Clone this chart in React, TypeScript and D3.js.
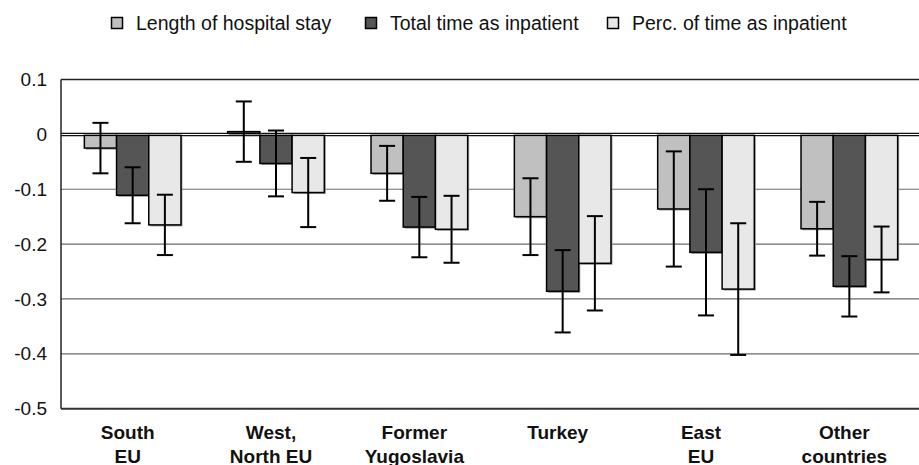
import * as d3 from 'd3';

const categories = [
  ['South', 'EU'],
  ['West,', 'North EU'],
  ['Former', 'Yugoslavia'],
  ['Turkey'],
  ['East', 'EU'],
  ['Other', 'countries'],
];
const seriesNames = ['Length of hospital stay', 'Total time as inpatient', 'Perc. of time as inpatient'];
const lengthStay = [-0.025, 0.005, -0.071, -0.15, -0.136, -0.172];
const lengthErr = [0.046, 0.055, 0.05, 0.07, 0.105, 0.049];
const totalTime = [-0.111, -0.053, -0.169, -0.286, -0.215, -0.277];
const totalErr = [0.051, 0.06, 0.055, 0.075, 0.115, 0.055];
const percTime = [-0.165, -0.106, -0.173, -0.235, -0.282, -0.228];
const percErr = [0.055, 0.063, 0.061, 0.086, 0.12, 0.06];
const yTicks = [0.1, 0, -0.1, -0.2, -0.3, -0.4, -0.5];

const seriesValues = [lengthStay, totalTime, percTime];
const seriesErrors = [lengthErr, totalErr, percErr];
const colors = ['#c0c0c0', '#555555', '#e8e8e8'];

const W = 919;
const H = 465;
const left = 61;
const right = 921;
const top = 79.5;
const bottom = 408.7;
const font = 'Arial, "Liberation Sans", Helvetica, sans-serif';

export default function App() {
  const keys = categories.map(c => c.join(' '));
  const y = d3.scaleLinear().domain([-0.5, 0.1]).range([bottom, top]);
  const x0 = d3.scaleBand<string>().domain(keys).range([left, right]);
  const x1 = d3.scaleBand<number>().domain([0, 1, 2]).range([0, x0.bandwidth()]).paddingOuter(0.725);
  const y0 = y(0);
  const legendX = [111, 365, 607];

  return (
    <svg width={W} height={H} style={{ position: 'absolute', left: 0, top: 0, background: '#fff' }} fontFamily={font}>
      {/* legend */}
      {seriesNames.map((name, i) => (
        <g key={name} transform={`translate(${legendX[i]},0)`}>
          <rect x={0.5} y={17.5} width={11} height={11} fill={colors[i]} stroke="#000" strokeWidth={1.5} />
          <text x={25} y={30} fontSize={19.5} fill="#111">{name}</text>
        </g>
      ))}

      {/* gridlines */}
      {yTicks.filter(t => t < 0 && t > -0.5).map(t => (
        <line key={t} x1={left} x2={right} y1={y(t)} y2={y(t)} stroke="#6a6a6a" strokeWidth={1.2} />
      ))}
      <line x1={left} x2={right} y1={top} y2={top} stroke="#222" strokeWidth={1.5} />
      <line x1={left} x2={right} y1={y0 - 1} y2={y0 - 1} stroke="#111" strokeWidth={1.2} />
      <line x1={left} x2={right} y1={y0 + 1.2} y2={y0 + 1.2} stroke="#111" strokeWidth={1.2} />

      {/* bars */}
      {categories.map((c, ci) => (
        <g key={keys[ci]} transform={`translate(${x0(keys[ci])},0)`}>
          {seriesValues.map((vals, si) => {
            const v = vals[ci];
            const bx = x1(si) as number;
            const bw = x1.bandwidth();
            const yt = v >= 0 ? y(v) : y0 + 1;
            const yb = v >= 0 ? y0 - 1 : y(v);
            return (
              <g key={si}>
                <rect x={bx + 1.5} y={yt + 1.5} width={bw} height={yb - yt} fill="#9a9a9a" />
                <rect x={bx} y={yt} width={bw} height={yb - yt} fill={colors[si]} stroke="#000" strokeWidth={1.5} />
              </g>
            );
          })}
          {seriesValues.map((vals, si) => {
            const v = vals[ci];
            const e = seriesErrors[si][ci];
            const cx = (x1(si) as number) + x1.bandwidth() / 2;
            return (
              <g key={'e' + si} stroke="#000" strokeWidth={2}>
                <line x1={cx} x2={cx} y1={y(v + e)} y2={y(v - e)} />
                <line x1={cx - 8} x2={cx + 8} y1={y(v + e)} y2={y(v + e)} />
                <line x1={cx - 8} x2={cx + 8} y1={y(v - e)} y2={y(v - e)} />
              </g>
            );
          })}
        </g>
      ))}

      {/* axes */}
      <line x1={left} x2={left} y1={top} y2={bottom} stroke="#222" strokeWidth={1.5} />
      <line x1={left} x2={right} y1={bottom} y2={bottom} stroke="#333" strokeWidth={2} />

      {yTicks.map(t => (
        <text key={t} x={47} y={y(t)} dy="0.35em" textAnchor="end" fontSize={19} fill="#111">
          {String(t)}
        </text>
      ))}

      {categories.map((lines, ci) => (
        <text key={keys[ci]} textAnchor="middle" fontSize={19} fontWeight="bold" fill="#111">
          {lines.map((l, li) => (
            <tspan key={li} x={(x0(keys[ci]) as number) + x0.bandwidth() / 2 - 5} y={439 + li * 23.5}>{l}</tspan>
          ))}
        </text>
      ))}
    </svg>
  );
}
